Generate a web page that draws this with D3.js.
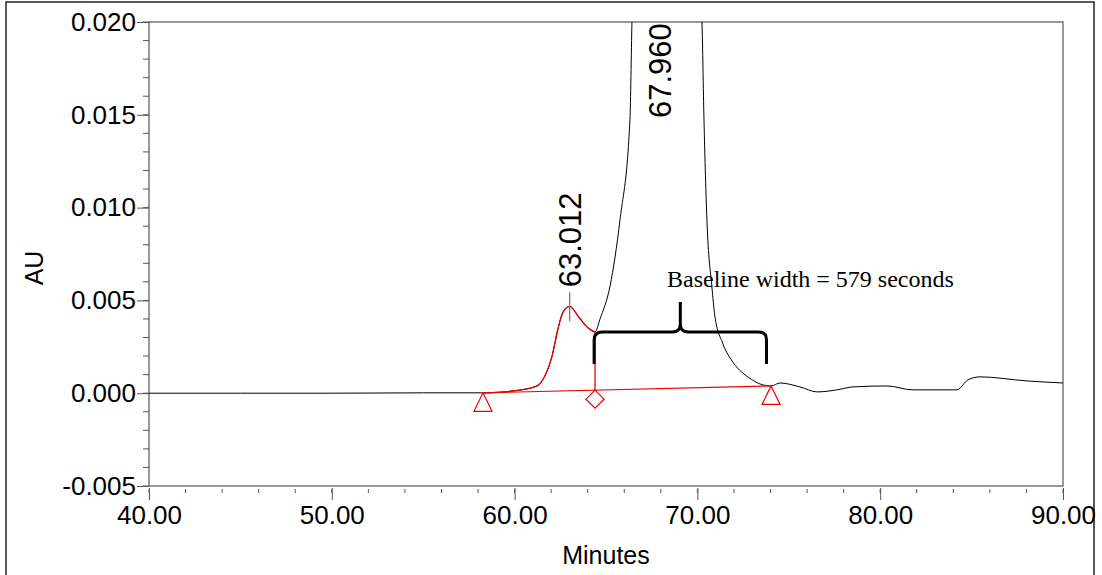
<!DOCTYPE html>
<html>
<head>
<meta charset="utf-8">
<script src="https://cdn.jsdelivr.net/npm/d3@7"></script>
<style>
  body { margin: 0; background: #fff; }
  svg { display: block; }
</style>
</head>
<body>
<div id="chart"></div>
<script>
// chromatogram trace (minutes, AU)
const times = [40.0, 45.0, 50.0, 55.0, 58.27, 59.91, 61.23, 61.66, 62.05, 62.37, 62.65, 63.012, 63.47, 63.96, 64.40,
  64.67, 65.22, 65.77, 66.31, 66.42, 66.8, 67.4, 67.96, 68.6, 69.6, 70.25,
  70.36, 70.52, 70.79, 70.95, 71.38, 71.85, 72.3, 72.8, 73.42, 74.03,
  74.52, 75.61, 76.54, 77.64, 78.51, 80.37, 81.79, 84.20, 84.80, 85.46, 88.03, 90.0];
const au = [0.0, 0.0, 0.0, 0.00002, 0.00002, 0.00012, 0.00039, 0.00094, 0.00200, 0.00346, 0.00437, 0.00468, 0.00416, 0.00357, 0.00330,
  0.00399, 0.00577, 0.00937, 0.01475, 0.0200, 0.030, 0.042, 0.046, 0.042, 0.030, 0.0200,
  0.01475, 0.00937, 0.00577, 0.0042, 0.0027, 0.0018, 0.00125, 0.00085, 0.00050, 0.00039,
  0.00055, 0.00034, 0.00007, 0.00018, 0.00034, 0.00039, 0.00018, 0.00018, 0.00072, 0.00088, 0.00066, 0.00055];

// integration of the first peak
const peakLabels = ["63.012", "67.960"];
const peakTimes = [63.012, 67.960];
const baselineStart = [58.27, 0.00002];
const baselineEnd = [74.03, 0.00039];
const dropTime = 64.40;
const redRange = [58.27, 64.40];

// baseline width brace
const braceX = [64.35, 73.78];
const braceY = [0.00330, 0.00158, 0.00491];
const braceText = "Baseline width = 579 seconds";

const xTicks = [40, 50, 60, 70, 80, 90];
const yTicks = [-0.005, 0.0, 0.005, 0.010, 0.015, 0.020];

const width = 1102, height = 575;
const margin = { top: 22, right: 39, bottom: 89, left: 149 };
const sans = "'Liberation Sans', Arial, Helvetica, sans-serif";

const svg = d3.select("#chart").append("svg")
  .attr("width", width)
  .attr("height", height);

// outer frame
svg.append("rect")
  .attr("x", 6).attr("y", 2)
  .attr("width", 1088).attr("height", 590)
  .attr("fill", "none")
  .attr("stroke", "#222")
  .attr("stroke-width", 1.5);

const x = d3.scaleLinear().domain([40, 90]).range([margin.left, width - margin.right]);
const y = d3.scaleLinear().domain([-0.005, 0.020]).range([height - margin.bottom, margin.top]);

svg.append("clipPath").attr("id", "clip")
  .append("rect")
  .attr("x", x(40)).attr("y", y(0.020))
  .attr("width", x(90) - x(40)).attr("height", y(-0.005) - y(0.020));

// y axis: major + minor ticks (plain hyphen for negatives)
const yFmt = d => d3.format(".3f")(d).replace("\u2212", "-");
const yAxis = d3.axisLeft(y).tickValues(yTicks).tickFormat(yFmt).tickSize(12).tickPadding(1);
const gy = svg.append("g").attr("transform", `translate(${x(40)},0)`).call(yAxis);
gy.select(".domain").remove();
gy.selectAll("line").attr("stroke", "#555");
gy.selectAll("text").style("font-family", sans).style("font-size", "26px").attr("fill", "#000");
const yMinor = d3.range(-0.005, 0.0201, 0.001);
svg.append("g").selectAll("line").data(yMinor).join("line")
  .attr("x1", x(40) - 6).attr("x2", x(40))
  .attr("y1", d => y(d)).attr("y2", d => y(d))
  .attr("stroke", "#555");

// x axis ticks sit just below the frame
const xAxis = d3.axisBottom(x).tickValues(xTicks).tickFormat(d3.format(".2f")).tickSize(12).tickPadding(6);
const gx = svg.append("g").attr("transform", `translate(0,${y(-0.005) + 2})`).call(xAxis);
gx.select(".domain").remove();
gx.selectAll("line").attr("stroke", "#555");
gx.selectAll("text").style("font-family", sans).style("font-size", "26px").attr("fill", "#000");
const xMinor = d3.range(40, 90.01, 2);
svg.append("g").selectAll("line").data(xMinor).join("line")
  .attr("x1", d => x(d)).attr("x2", d => x(d))
  .attr("y1", y(-0.005) + 3).attr("y2", y(-0.005) + 7)
  .attr("stroke", "#555");

// plot frame
svg.append("rect")
  .attr("x", x(40)).attr("y", y(0.020))
  .attr("width", x(90) - x(40)).attr("height", y(-0.005) - y(0.020))
  .attr("fill", "none")
  .attr("stroke", "#555")
  .attr("stroke-width", 1.2);

// axis titles
svg.append("text")
  .attr("x", (x(40) + x(90)) / 2).attr("y", 564)
  .attr("text-anchor", "middle")
  .style("font-family", sans).style("font-size", "25px")
  .text("Minutes");
svg.append("text")
  .attr("transform", `translate(43,${(y(-0.005) + y(0.020)) / 2 + 14}) rotate(-90)`)
  .attr("text-anchor", "middle")
  .style("font-family", sans).style("font-size", "25px")
  .text("AU");

const pts = times.map((t, i) => [t, au[i]]);
const line = d3.line().x(d => x(d[0])).y(d => y(d[1])).curve(d3.curveMonotoneX);
const plot = svg.append("g").attr("clip-path", "url(#clip)");

plot.append("path")
  .attr("d", line(pts))
  .attr("fill", "none")
  .attr("stroke", "#000")
  .attr("stroke-width", 1);

plot.append("path")
  .attr("d", line(pts.filter(d => d[0] >= redRange[0] && d[0] <= redRange[1])))
  .attr("fill", "none")
  .attr("stroke", "#e00000")
  .attr("stroke-width", 1.3);

// integration baseline and drop line
const baseAt = t => baselineStart[1] + (baselineEnd[1] - baselineStart[1]) * (t - baselineStart[0]) / (baselineEnd[0] - baselineStart[0]);
plot.append("line")
  .attr("x1", x(baselineStart[0])).attr("y1", y(baselineStart[1]))
  .attr("x2", x(baselineEnd[0])).attr("y2", y(baselineEnd[1]))
  .attr("stroke", "#f00000").attr("stroke-width", 1.2);
const dropVal = au[times.indexOf(dropTime)];
plot.append("line")
  .attr("x1", x(dropTime)).attr("x2", x(dropTime))
  .attr("y1", y(dropVal)).attr("y2", y(baseAt(dropTime)))
  .attr("stroke", "#f00000").attr("stroke-width", 1.3);

// markers
const tri = [baselineStart, baselineEnd];
plot.selectAll(".tri").data(tri).join("path")
  .attr("class", "tri")
  .attr("d", d => `M${x(d[0])},${y(d[1])} l9,18.5 h-18 z`)
  .attr("fill", "none").attr("stroke", "#f00000").attr("stroke-width", 1.2);
plot.append("path")
  .attr("d", `M${x(dropTime)},${y(baseAt(dropTime))} l9,9 l-9,9 l-9,-9 z`)
  .attr("fill", "none").attr("stroke", "#f00000").attr("stroke-width", 1.3);

// peak labels
const apex = au[times.indexOf(peakTimes[0])];
svg.append("line")
  .attr("x1", x(peakTimes[0])).attr("x2", x(peakTimes[0]))
  .attr("y1", y(apex) - 14).attr("y2", y(apex) + 15)
  .attr("stroke", "#777").attr("stroke-width", 1.3);
const labelBottom = [y(apex) - 19, 118];
svg.selectAll(".plabel").data(peakLabels).join("text")
  .attr("class", "plabel")
  .attr("transform", (d, i) => `translate(${x(peakTimes[i])},${labelBottom[i]}) rotate(-90)`)
  .attr("dy", "0.36em")
  .style("font-family", sans).style("font-size", "31px")
  .text(d => d);

// brace
const bx0 = x(braceX[0]), bx1 = x(braceX[1]), bm = (bx0 + bx1) / 2;
const by = y(braceY[0]), bb = y(braceY[1]), bt = y(braceY[2]);
const r = 8;
svg.append("path")
  .attr("d", `M${bx0},${bb} V${by + r} Q${bx0},${by} ${bx0 + r},${by} H${bm - r} Q${bm},${by} ${bm},${by - r} V${bt}` +
    ` M${bm},${by - r} Q${bm},${by} ${bm + r},${by} H${bx1 - r} Q${bx1},${by} ${bx1},${by + r} V${bb}`)
  .attr("fill", "none").attr("stroke", "#000").attr("stroke-width", 3);
svg.append("text")
  .attr("x", 667).attr("y", 287)
  .style("font-family", "'Liberation Serif', 'Times New Roman', serif").style("font-size", "24px")
  .text(braceText);
</script>
</body>
</html>
